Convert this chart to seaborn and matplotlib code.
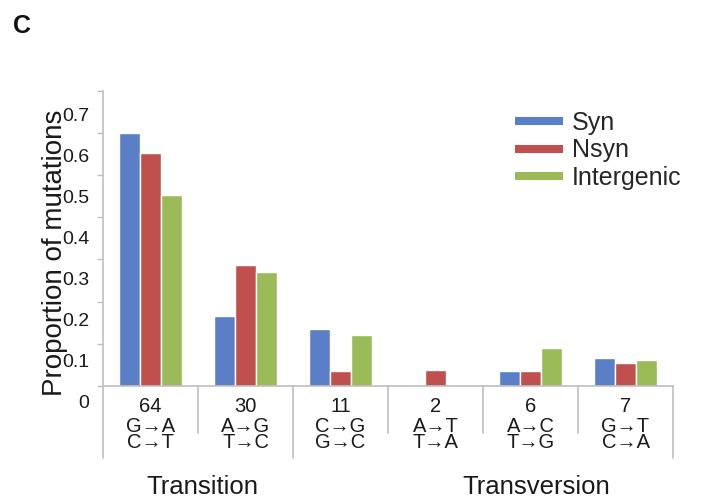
import matplotlib
matplotlib.use("Agg")
import matplotlib.pyplot as plt
import matplotlib.transforms as mtransforms
from matplotlib.lines import Line2D
import numpy as np
import pandas as pd
import seaborn as sns

# Mutation classes (two strand-equivalent substitutions per class) and counts
counts = [64, 30, 11, 2, 6, 7]
subst_top = ["G→A", "A→G", "C→G", "A→T", "A→C", "G→T"]
subst_bottom = ["C→T", "T→C", "G→C", "T→A", "T→G", "C→A"]

# Proportion of mutations per class for each site type
syn = [0.599, 0.165, 0.134, 0.0, 0.035, 0.067]
nsyn = [0.553, 0.286, 0.035, 0.037, 0.035, 0.054]
intergenic = [0.452, 0.270, 0.121, 0.0, 0.090, 0.061]

series_names = ["Syn", "Nsyn", "Intergenic"]
series_colors = ["#5a7fc6", "#c0504d", "#9bbb59"]

yticks = [0, 0.1, 0.2, 0.3, 0.4, 0.5, 0.6, 0.7]
ytick_labels = ["0", "0.1", "0.2", "0.3", "0.4", "0.5", "0.6", "0.7"]

groups = ["Transition", "Transversion"]

classes = [f"{a}/{b}" for a, b in zip(subst_top, subst_bottom)]
df = pd.DataFrame({
    "class": classes * 3,
    "type": np.repeat(series_names, len(classes)),
    "value": syn + nsyn + intergenic,
})

sns.set_style("white")
plt.rcParams["font.family"] = ["Liberation Sans", "DejaVu Sans"]

W, H = 701, 501
fig = plt.figure(figsize=(W / 100, H / 100), dpi=100)
ax = fig.add_axes([103 / W, 115 / H, 570 / W, 295.5 / H])

sns.barplot(data=df, x="class", y="value", hue="type", order=classes,
            hue_order=series_names, palette=series_colors, width=0.66,
            saturation=1, legend=False, ax=ax)

ax.set_xlim(-0.5, len(classes) - 0.5)
ax.set_ylim(0, 0.7)
ax.set_xlabel("")
ax.set_xticks(range(len(classes)))
ax.set_xticklabels([""] * len(classes))
ax.tick_params(axis="x", length=0)

grey = "#bfbfbf"
for side in ["top", "right"]:
    ax.spines[side].set_visible(False)
for side in ["left", "bottom"]:
    ax.spines[side].set_color(grey)
    ax.spines[side].set_linewidth(1.2)

# y ticks: labels sit a little below their tick marks
ax.set_yticks(yticks)
ax.set_yticklabels(ytick_labels)
ax.tick_params(axis="y", length=4, color=grey, width=1, pad=6,
               labelsize=14, labelcolor="#1a1a1a", left=True)
for tick, v in zip(ax.yaxis.get_major_ticks(), yticks):
    off = (15.3 + 13 * v) / 100
    tick.label1.set_transform(tick.label1.get_transform()
                              + mtransforms.ScaledTranslation(0, -off, fig.dpi_scale_trans))

ax.set_ylabel("Proportion of mutations", fontsize=20, color="#1a1a1a")
ax.yaxis.set_label_coords(-0.084, 0.45)
ax.yaxis.label.set_verticalalignment("center")

# Category table below the axis: count, then the two substitutions
blend = mtransforms.blended_transform_factory(ax.transData, ax.transAxes)
for i, (n, a, b) in enumerate(zip(counts, subst_top, subst_bottom)):
    for txt, dy in ((str(n), -21), (a, -41), (b, -56)):
        ax.annotate(txt, xy=(i, 0), xycoords=blend, xytext=(0, dy),
                    textcoords="offset pixels", ha="center", va="center",
                    fontsize=14.5, color="#1a1a1a", annotation_clip=False)

ax_h = 295.5
for k in range(len(classes) + 1):
    x = k - 0.5
    depth = 72 if k in (0, 2, len(classes)) else 47
    ax.add_line(Line2D([x, x], [0, -depth / ax_h], transform=blend,
                       color=grey, lw=1.2, clip_on=False))

fig.text(202 / W, 1 - 487 / H, groups[0], ha="center", va="center",
         fontsize=18.5, color="#1a1a1a")
fig.text(536 / W, 1 - 487 / H, groups[1], ha="center", va="center",
         fontsize=18.5, color="#1a1a1a")

# Legend
handles = [Line2D([], [], color=c, lw=5.8, solid_capstyle="butt")
           for c in series_colors]
ax.legend(handles, series_names, loc="upper left",
          bbox_to_anchor=(515 / W, 1 - 111 / H), bbox_transform=fig.transFigure,
          frameon=False, fontsize=18, handlelength=1.92, handletextpad=0.36,
          labelspacing=0.13, borderpad=0, borderaxespad=0)

fig.text(22 / W, 1 - 26 / H, "C", ha="center", va="center",
         fontsize=18, fontweight="bold", color="#111111")

fig.savefig("out.png", dpi=100)
